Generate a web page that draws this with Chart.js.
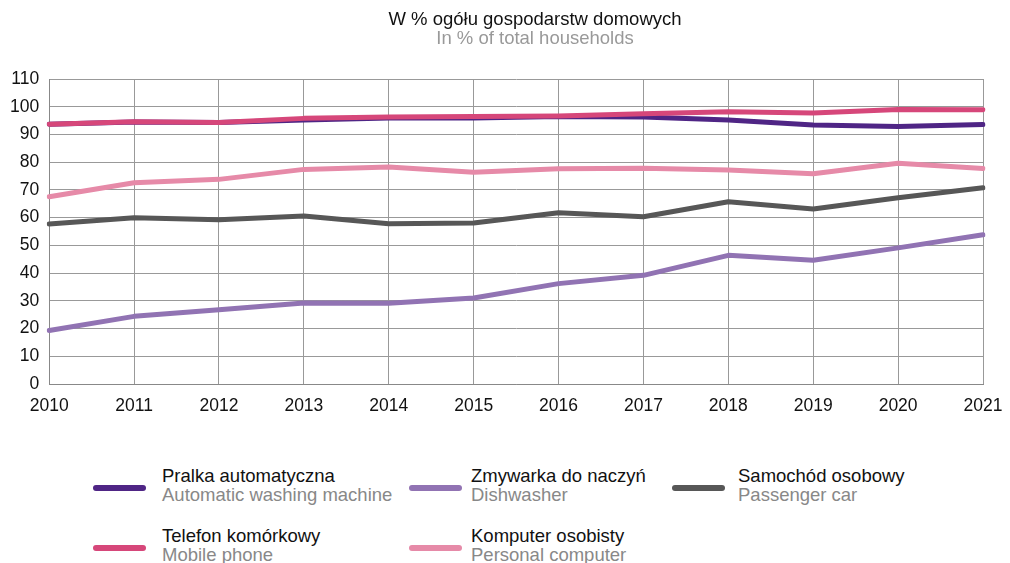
<!DOCTYPE html>
<html>
<head>
<meta charset="utf-8">
<script src="https://cdn.jsdelivr.net/npm/chart.js@4/dist/chart.umd.min.js"></script>
<style>
  body { margin: 0; background: #fff; font-family: "Liberation Sans", Arial, sans-serif; }
  #wrap { position: relative; width: 1010px; height: 429px; }
  #legend { position: absolute; left: 93px; top: 466px; display: grid;
            grid-template-columns: 53px 16px 247px 53px 9px 201px 53px 13px auto;
            row-gap: 22px; align-items: center; }
  .swatch { width: 53px; height: 6px; border-radius: 3px; margin-top: 5px; }
  .pl { color: #111; font-size: 18.5px; line-height: 19px; white-space: nowrap; }
  .en { color: #888; font-size: 18.5px; line-height: 19px; white-space: nowrap; }
</style>
</head>
<body>
<div id="wrap"><canvas id="lineChart"></canvas></div>
<div id="legend"></div>
<script>
const years = ['2010', '2011', '2012', '2013', '2014', '2015', '2016', '2017', '2018', '2019', '2020', '2021']

const pralka = [93.7, 94.5, 94.3, 95.2, 95.9, 95.9, 96.5, 96.3, 95.2, 93.4, 92.9, 93.6]
const zmywarka = [19.3, 24.4, 26.8, 29.2, 29.1, 31.0, 36.2, 39.2, 46.4, 44.6, 49.1, 53.8]
const samochod = [57.7, 60.0, 59.2, 60.6, 57.8, 58.1, 61.8, 60.3, 65.7, 63.1, 67.2, 70.8]
const telefon = [93.7, 94.6, 94.3, 95.8, 96.3, 96.5, 96.7, 97.5, 98.2, 97.7, 99.0, 98.9]
const komputer = [67.5, 72.6, 73.8, 77.4, 78.3, 76.4, 77.6, 77.8, 77.2, 75.8, 79.6, 77.7]

const series = [
    { pl: 'Pralka automatyczna', en: 'Automatic washing machine', data: pralka, color: '#4f2585', order: 1 },
    { pl: 'Zmywarka do naczyń', en: 'Dishwasher', data: zmywarka, color: '#9173b3', order: 2 },
    { pl: 'Samochód osobowy', en: 'Passenger car', data: samochod, color: '#575757', order: 3 },
    { pl: 'Telefon komórkowy', en: 'Mobile phone', data: telefon, color: '#d6477a', order: 0 },
    { pl: 'Komputer osobisty', en: 'Personal computer', data: komputer, color: '#e68aa8', order: 4 },
]

const titles = {
    id: 'titles',
    afterDraw(chart) {
        const ctx = chart.ctx
        ctx.save()
        ctx.textAlign = 'center'
        ctx.textBaseline = 'middle'
        ctx.font = '18.5px "Liberation Sans", Arial, sans-serif'
        ctx.fillStyle = '#111'
        ctx.fillText('W % ogółu gospodarstw domowych', 535, 20)
        ctx.fillStyle = '#999'
        ctx.fillText('In % of total households', 535, 39)
        ctx.restore()
    }
}

const line = document.querySelector('#lineChart')
const chart = new Chart(line, {
    type: 'line',
    data: {
        labels: years,
        datasets: series.map(s => ({
            label: s.pl,
            data: s.data,
            borderColor: s.color,
            backgroundColor: s.color,
            borderWidth: 5,
            pointRadius: 0,
            order: s.order,
            borderCapStyle: 'round',
            borderJoinStyle: 'round',
        }))
    },
    options: {
        responsive: true,
        maintainAspectRatio: false,
        animation: false,
        layout: { padding: { top: 79, right: 0, left: 0, bottom: 0 } },
        plugins: { legend: { display: false }, tooltip: { enabled: false } },
        scales: {
            x: {
                grid: { color: '#999', drawTicks: false },
                border: { color: '#888' },
                ticks: { color: '#111', font: { size: 17.5, family: '"Liberation Sans", Arial' }, padding: 12, maxRotation: 0 },
                // etykieta 2021 wystaje poza wykres, jak w oryginale
                afterFit: s => { s.paddingRight = 27 }
            },
            y: {
                min: 0,
                max: 110,
                grid: { color: '#999', drawTicks: false },
                border: { color: '#888' },
                ticks: { stepSize: 10, color: '#111', font: { size: 17.5, family: '"Liberation Sans", Arial' }, padding: 10 }
            }
        }
    },
    plugins: [titles]
})

// legenda: kreska, odstęp, opis (PL + EN) w trzech kolumnach
const legend = document.querySelector('#legend')
series.forEach(s => {
    const sw = document.createElement('div')
    sw.className = 'swatch'
    sw.style.background = s.color
    const gap = document.createElement('div')
    const txt = document.createElement('div')
    txt.innerHTML = '<div class="pl">' + s.pl + '</div><div class="en">' + s.en + '</div>'
    legend.append(sw, gap, txt)
})
</script>
</body>
</html>
